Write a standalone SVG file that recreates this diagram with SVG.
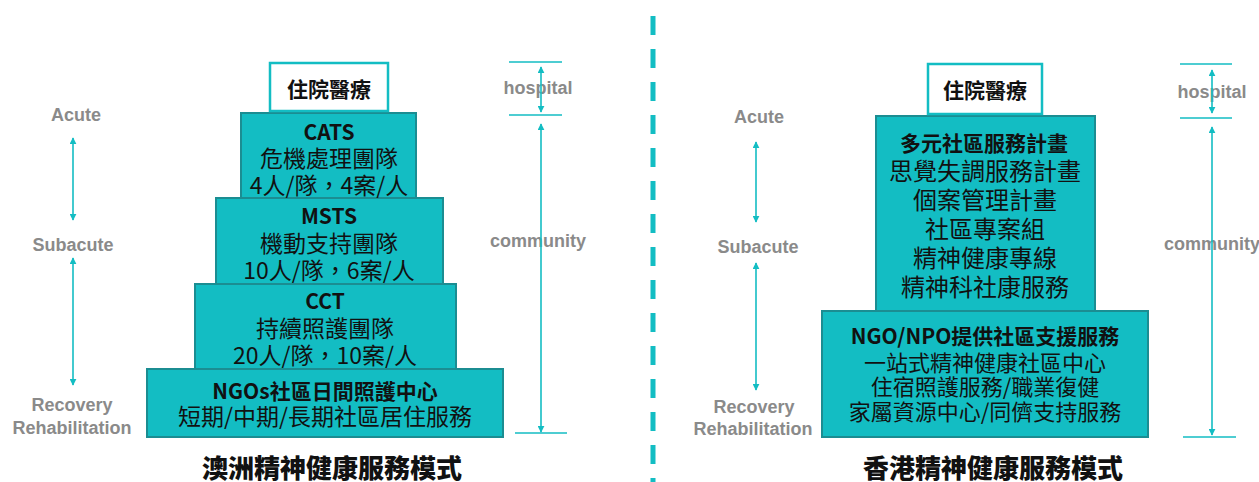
<svg xmlns="http://www.w3.org/2000/svg" width="1259" height="482" viewBox="0 0 1259 482">
<style>
.box{fill:#13bdc3;stroke:#1b8d92;stroke-width:2}
.hbox{fill:#ffffff;stroke:#13bdc3;stroke-width:2.5}
.t{font-family:"Noto Sans CJK TC","Noto Sans CJK SC",sans-serif;fill:#111;text-anchor:middle;dominant-baseline:central}
.b{font-weight:bold}
.g{font-family:"Liberation Sans",Arial,sans-serif;font-weight:bold;fill:#8a8a8a;font-size:18px;text-anchor:middle;dominant-baseline:central}
.ttl{font-family:"Noto Sans CJK TC","Noto Sans CJK SC",sans-serif;font-weight:900;fill:#111;font-size:26px;text-anchor:middle;dominant-baseline:central}
.ar{stroke:#13bdc3;stroke-width:1.6;fill:none;marker-start:url(#ah);marker-end:url(#ah)}
.tick{stroke:#13bdc3;stroke-width:1.6}
</style>
<defs>
<marker id="ah" viewBox="0 0 10 10" refX="9" refY="5" markerWidth="7" markerHeight="7" markerUnits="userSpaceOnUse" orient="auto-start-reverse">
<path d="M0,0 L10,5 L0,10 Z" fill="#13bdc3"/>
</marker>
</defs>

<!-- divider -->
<line x1="653" y1="16" x2="653" y2="482" stroke="#13bdc3" stroke-width="5" stroke-dasharray="19 14"/>

<!-- LEFT DIAGRAM -->
<g id="l-labels">
<text class="g" x="76" y="115">Acute</text>
<text class="g" x="73" y="245">Subacute</text>
<text class="g" x="72" y="405">Recovery</text>
<text class="g" x="72" y="428">Rehabilitation</text>
</g>
<g id="l-ngo">
<rect class="box" x="147" y="369" width="356" height="68"/>
<text class="t b" x="325" y="390" font-size="21">NGOs社區日間照護中心</text>
<text class="t" x="325" y="415" font-size="23">短期/中期/長期社區居住服務</text>
</g>
<g id="l-cct">
<rect class="box" x="195" y="284" width="261" height="85"/>
<text class="t b" x="325" y="300" font-size="21">CCT</text>
<text class="t" x="325" y="327" font-size="23">持續照護團隊</text>
<text class="t" x="325" y="354" font-size="23">20人/隊，10案/人</text>
</g>
<g id="l-msts">
<rect class="box" x="216" y="198" width="227" height="86"/>
<text class="t b" x="329" y="215" font-size="21">MSTS</text>
<text class="t" x="329" y="242" font-size="23">機動支持團隊</text>
<text class="t" x="329" y="269" font-size="23">10人/隊，6案/人</text>
</g>
<g id="l-cats">
<rect class="box" x="241" y="113" width="175" height="85"/>
<text class="t b" x="329" y="131" font-size="21">CATS</text>
<text class="t" x="329" y="157" font-size="23">危機處理團隊</text>
<text class="t" x="329" y="184" font-size="23">4人/隊，4案/人</text>
</g>
<g id="l-hosp">
<rect class="hbox" x="270" y="63" width="118" height="48"/>
<text class="t b" x="329" y="88" font-size="21">住院醫療</text>
</g>
<g id="l-bracket">
<text class="g" x="538" y="88">hospital</text>
<text class="g" x="538" y="241">community</text>
</g>
<text class="ttl" x="332" y="466">澳洲精神健康服務模式</text>

<!-- RIGHT DIAGRAM -->
<g id="r-labels">
<text class="g" x="759" y="117">Acute</text>
<text class="g" x="758" y="247">Subacute</text>
<text class="g" x="754" y="407">Recovery</text>
<text class="g" x="753" y="429">Rehabilitation</text>
</g>
<g id="r-ngo">
<rect class="box" x="822" y="311" width="326" height="126"/>
<text class="t b" x="985" y="335" font-size="21">NGO/NPO提供社區支援服務</text>
<text class="t" x="985" y="361" font-size="22">一站式精神健康社區中心</text>
<text class="t" x="985" y="385" font-size="22">住宿照護服務/職業復健</text>
<text class="t" x="985" y="410" font-size="22">家屬資源中心/同儕支持服務</text>
</g>
<g id="r-multi">
<rect class="box" x="876" y="116" width="219" height="195"/>
<text class="t b" x="984" y="142" font-size="21">多元社區服務計畫</text>
<text class="t" x="985" y="169" font-size="24">思覺失調服務計畫</text>
<text class="t" x="985" y="198" font-size="24">個案管理計畫</text>
<text class="t" x="985" y="227" font-size="24">社區專案組</text>
<text class="t" x="985" y="256" font-size="24">精神健康專線</text>
<text class="t" x="985" y="285" font-size="24">精神科社康服務</text>
</g>
<g id="r-hosp">
<rect class="hbox" x="928" y="64" width="114" height="50"/>
<text class="t b" x="985" y="89" font-size="21">住院醫療</text>
</g>
<g id="r-bracket">
<text class="g" x="1212" y="92">hospital</text>
<text class="g" x="1212" y="244">community</text>
</g>
<text class="ttl" x="993" y="466">香港精神健康服務模式</text>

<g id="connectors">
<line class="ar" x1="73" y1="138" x2="73" y2="220"/>
<line class="ar" x1="73" y1="258" x2="73" y2="385"/>
<line class="tick" x1="509" y1="62" x2="562" y2="62"/>
<line class="tick" x1="509" y1="115" x2="562" y2="115"/>
<line class="tick" x1="515" y1="433" x2="567" y2="433"/>
<line class="ar" x1="541" y1="67" x2="541" y2="112"/>
<line class="ar" x1="541" y1="124" x2="541" y2="432"/>

<line class="ar" x1="756" y1="142" x2="756" y2="222"/>
<line class="ar" x1="756" y1="263" x2="756" y2="390"/>
<line class="tick" x1="1180" y1="64" x2="1232" y2="64"/>
<line class="tick" x1="1180" y1="118" x2="1232" y2="118"/>
<line class="tick" x1="1183" y1="437" x2="1236" y2="437"/>
<line class="ar" x1="1212" y1="70" x2="1212" y2="113"/>
<line class="ar" x1="1212" y1="127" x2="1212" y2="435"/>
</g>
</svg>
